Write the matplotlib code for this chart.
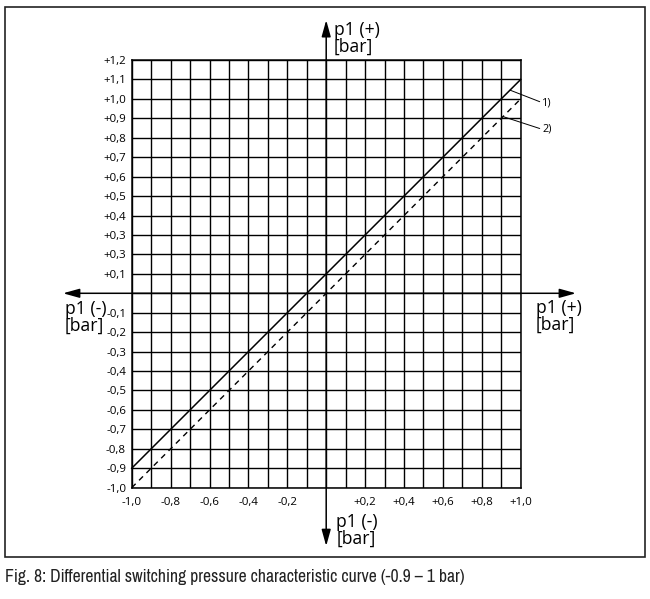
import numpy as np
import matplotlib
matplotlib.use("Agg")
import matplotlib.pyplot as plt
from matplotlib.patches import Rectangle
from matplotlib import font_manager

# pick a condensed font for the caption if available
cond_family = None
for f in font_manager.fontManager.ttflist:
    if 'Narrow' in f.name or 'Condensed' in f.name:
        cond_family = f.name
        break
if cond_family is None:
    cond_family = 'DejaVu Sans'
plt.rcParams['font.family'] = ['Open Sans', 'DejaVu Sans']
cap_family = [cond_family, 'DejaVu Sans']

# ---- data ----
x_ends = [-1.0, 1.0]
curve1_y = [-0.9, 1.1]   # 1) solid
curve2_y = [-1.0, 1.0]   # 2) dashed

y_tick_values = [1.2, 1.1, 1.0, 0.9, 0.8, 0.7, 0.6, 0.5, 0.4, 0.3, 0.2, 0.1,
                 -0.1, -0.2, -0.3, -0.4, -0.5, -0.6, -0.7, -0.8, -0.9, -1.0]
y_tick_labels = ['+1,2', '+1,1', '+1,0', '+0,9', '+0,8', '+0,7', '+0,6', '+0,5',
                 '+0,4', '+0,3', '+0,3', '+0,1',
                 '-0,1', '-0,2', '-0,3', '-0,4', '-0,5', '-0,6', '-0,7', '-0,8',
                 '-0,9', '-1,0']
x_tick_values = [-1.0, -0.8, -0.6, -0.4, -0.2, 0.2, 0.4, 0.6, 0.8, 1.0]
x_tick_labels = ['-1,0', '-0,8', '-0,6', '-0,4', '-0,2',
                 '+0,2', '+0,4', '+0,6', '+0,8', '+1,0']
caption = "Fig. 8: Differential switching pressure characteristic curve (-0.9 \u2013 1 bar)"

W, H = 650, 599
fig = plt.figure(figsize=(W / 100, H / 100), dpi=100)
renderer = fig.canvas.get_renderer()


def fit_size(text, target_px, base=10.0, family=None):
    kw = {} if family is None else {'family': family}
    t = fig.text(0, 0, text, fontsize=base, **kw)
    w = t.get_window_extent(renderer=renderer).width
    t.remove()
    return base * target_px / w


tick_fs = fit_size('+0,2', 22.6)
lab_fs = fit_size('p1 (+)', 46)
num_fs = fit_size('1)', 9.5)
cap_fs = min(fit_size(caption, 462, family=cap_family), 14.5)

ax = fig.add_axes([131.7 / W, 1 - 487.7 / H, (520.7 - 131.7) / W, (487.7 - 60) / H])
ax.set_xlim(-1.0, 1.0)
ax.set_ylim(-1.0, 1.2)

# grid
ax.set_xticks(np.round(np.arange(-1.0, 1.001, 0.1), 2), minor=True)
ax.set_yticks(np.round(np.arange(-1.0, 1.201, 0.1), 2), minor=True)
ax.set_xticks(x_tick_values, x_tick_labels)
ax.set_yticks(y_tick_values, y_tick_labels)
ax.grid(which='both', color='black', linewidth=1.0)
ax.set_axisbelow(True)
ax.tick_params(which='both', length=0)
ax.tick_params(axis='x', pad=7, labelsize=tick_fs)
ax.tick_params(axis='y', pad=4, labelsize=tick_fs)
for s in ax.spines.values():
    s.set_linewidth(1.1)

# curves
ax.plot(x_ends, curve1_y, color='black', linewidth=1.1, clip_on=False, zorder=3)
ax.plot(x_ends, curve2_y, color='black', linewidth=1.0, linestyle=(0, (4, 3.5)),
        clip_on=False, zorder=3)

# leader lines and labels
ax.annotate('1)', xy=(0.945, 1.045), xytext=(1.112, 0.98), fontsize=num_fs,
            va='center', ha='left', annotation_clip=False,
            arrowprops=dict(arrowstyle='-', color='black', linewidth=0.7,
                            shrinkA=0, shrinkB=0, relpos=(0, 0.5)))
ax.annotate('2)', xy=(0.909, 0.909), xytext=(1.112, 0.843), fontsize=num_fs,
            va='center', ha='left', annotation_clip=False,
            arrowprops=dict(arrowstyle='-', color='black', linewidth=0.7,
                            shrinkA=0, shrinkB=0, relpos=(0, 0.5)))

# main axes arrows
arrow_kw = dict(arrowstyle='<|-|>,head_length=0.9,head_width=0.25', color='black',
                linewidth=1.1, shrinkA=0, shrinkB=0, mutation_scale=11)
ax.annotate('', xy=(0, 1.405), xytext=(0, -1.30), annotation_clip=False,
            arrowprops=arrow_kw)
ax.annotate('', xy=(1.284, 0), xytext=(-1.353, 0), annotation_clip=False,
            arrowprops=arrow_kw)

lab_kw = dict(fontsize=lab_fs, ha='left', va='top', linespacing=0.92)
ax.text(0.040, 1.40, 'p1 (+)\n[bar]', clip_on=False, **lab_kw)
ax.text(-1.343, -0.035, 'p1 (-)\n[bar]', clip_on=False, **lab_kw)
ax.text(1.079, -0.03, 'p1 (+)\n[bar]', clip_on=False, **lab_kw)
ax.text(0.052, -1.13, 'p1 (-)\n[bar]', clip_on=False, **lab_kw)

# frame and caption
fig.patches.append(Rectangle((5 / W, 1 - 557 / H), 640 / W, 550 / H,
                             transform=fig.transFigure, fill=False,
                             edgecolor='#222222', linewidth=1.2))
fig.text(5 / W, 1 - 577 / H, caption, fontsize=cap_fs, ha='left', va='center',
         color='#222222', family=cap_family)

fig.savefig('out.png', dpi=100)
